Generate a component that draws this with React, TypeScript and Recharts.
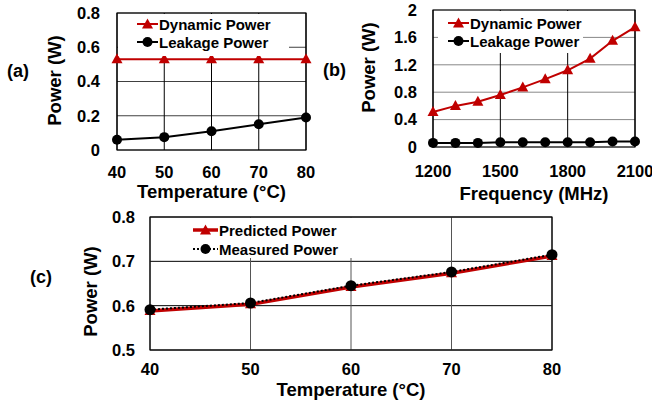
import {
  CartesianGrid,
  Legend,
  Line,
  LineChart,
  ReferenceArea,
  XAxis,
  YAxis,
} from "recharts";

// (a) power vs temperature
const tempC = [40, 50, 60, 70, 80];
const dynamicA = [0.53, 0.53, 0.53, 0.53, 0.53];
const leakageA = [0.06, 0.075, 0.11, 0.15, 0.19];

// (b) power vs frequency
const freqMHz = [1200, 1300, 1400, 1500, 1600, 1700, 1800, 1900, 2000, 2100];
const dynamicB = [0.51, 0.6, 0.66, 0.76, 0.87, 0.99, 1.12, 1.29, 1.55, 1.75];
const leakageB = [0.06, 0.06, 0.06, 0.07, 0.07, 0.07, 0.07, 0.07, 0.08, 0.08];

// (c) predicted vs measured
const predictedC = [0.588, 0.603, 0.642, 0.673, 0.712];
const measuredC = [0.591, 0.606, 0.645, 0.676, 0.715];

const tempTicks = [40, 50, 60, 70, 80];
const freqTicks = [1200, 1500, 1800, 2100];
const powerTicksA = [0, 0.2, 0.4, 0.6, 0.8];
const powerTicksB = [0, 0.4, 0.8, 1.2, 1.6, 2];
const powerTicksC = [0.5, 0.6, 0.7, 0.8];

const dataA = tempC.map((t, i) => ({ t, dynamic: dynamicA[i], leakage: leakageA[i] }));
const dataB = freqMHz.map((f, i) => ({ f, dynamic: dynamicB[i], leakage: leakageB[i] }));
const dataC = tempC.map((t, i) => ({ t, predicted: predictedC[i], measured: measuredC[i] }));

const FONT = '"Liberation Sans", Arial, sans-serif';
const RED = "#C00000";

const tickStyle = { fontFamily: FONT, fontWeight: "bold", fontSize: 16.5, fill: "#000" };
const titleStyle = { fontFamily: FONT, fontWeight: "bold", fontSize: 18.5, fill: "#000", textAnchor: "middle" as const };

function TriangleDot(props: any) {
  const { cx, cy, fill, index } = props;
  if (cx == null || cy == null) return <g key={index} />;
  return (
    <polygon
      key={index}
      points={`${cx},${cy - 6} ${cx - 5.5},${cy + 4} ${cx + 5.5},${cy + 4}`}
      fill={fill}
    />
  );
}

const triDot = (p: any) => <TriangleDot key={p.index} {...p} fill={RED} />;

// legend keeps the series order, not alphabetical
function makeLegend(iconW: number, rowH: number, order: string[]) {
  return function LegendBox({ payload }: any) {
    const items = [...(payload || [])].sort(
      (a: any, b: any) => order.indexOf(a.value) - order.indexOf(b.value)
    );
    return (
      <div style={{ fontFamily: FONT, fontWeight: "bold", fontSize: 15, color: "#000" }}>
        {items.map((entry: any) => (
          <div key={entry.value} style={{ display: "flex", alignItems: "center", height: rowH }}>
            <svg width={iconW} height={12} style={{ marginRight: 1 }}>
              <line
                x1={0}
                y1={6}
                x2={iconW}
                y2={6}
                stroke={entry.color}
                strokeWidth={entry.payload?.strokeWidth ?? 2}
                strokeDasharray={entry.payload?.strokeDasharray}
              />
              {entry.type === "triangle" ? (
                <polygon
                  points={`${iconW / 2},0.5 ${iconW / 2 - 5.5},10.5 ${iconW / 2 + 5.5},10.5`}
                  fill={entry.color}
                />
              ) : (
                <circle cx={iconW / 2} cy={6} r={5} fill={entry.color} />
              )}
            </svg>
            <span style={{ lineHeight: 1 }}>{entry.value}</span>
          </div>
        ))}
      </div>
    );
  };
}

const panelLabel = (text: string, left: number, top: number) => (
  <div
    style={{
      position: "absolute",
      left,
      top,
      fontFamily: FONT,
      fontWeight: "bold",
      fontSize: 18,
      lineHeight: "20px",
    }}
  >
    {text}
  </div>
);

function PanelA() {
  return (
    <LineChart width={330} height={205} data={dataA} margin={{ top: 13, right: 24, bottom: 0, left: 0 }}>
      <CartesianGrid vertical={false} stroke="#404040" />
      <CartesianGrid horizontal={false} stroke="#000" />
      <XAxis
        dataKey="t"
        type="number"
        domain={[40, 80]}
        ticks={tempTicks}
        interval={0}
        axisLine={false}
        tickLine={false}
        tickSize={0}
        tickMargin={16}
        height={55}
        tick={tickStyle}
        label={{ value: "Temperature (°C)", position: "insideBottom", offset: 7, style: titleStyle }}
      />
      <YAxis
        type="number"
        domain={[0, 0.8]}
        ticks={powerTicksA}
        interval={0}
        axisLine={false}
        tickLine={false}
        tickSize={0}
        tickMargin={17}
        width={117}
        tick={tickStyle}
        label={{ value: "Power (W)", angle: -90, position: "insideLeft", offset: 54, dy: -1, style: titleStyle }}
      />
      <ReferenceArea x1={40} x2={80} y1={0} y2={0.8} fill="none" stroke="#000" strokeWidth={1.2} />
      <Legend
        layout="vertical"
        align="center"
        verticalAlign="middle"
        content={makeLegend(21, 18.3, ["Dynamic Power", "Leakage Power"])}
        wrapperStyle={{ left: 118, top: 14, width: 171, height: 42, background: "#fff", paddingLeft: 19, paddingTop: 1, boxSizing: "border-box" }}
      />
      <Line
        dataKey="dynamic"
        name="Dynamic Power"
        stroke={RED}
        strokeWidth={2}
        legendType="triangle"
        dot={triDot}
        isAnimationActive={false}
      />
      <Line
        dataKey="leakage"
        name="Leakage Power"
        stroke="#000"
        strokeWidth={2}
        legendType="circle"
        dot={{ r: 5, fill: "#000", stroke: "#000", strokeWidth: 0 }}
        isAnimationActive={false}
      />
    </LineChart>
  );
}

function PanelB() {
  return (
    <LineChart width={322} height={205} data={dataB} margin={{ top: 10, right: 17, bottom: 0, left: 0 }}>
      <CartesianGrid vertical={false} stroke="#888" />
      <CartesianGrid horizontal={false} stroke="#000" />
      <XAxis
        dataKey="f"
        type="number"
        domain={[1200, 2100]}
        ticks={freqTicks}
        interval={0}
        axisLine={false}
        tickLine={false}
        tickSize={0}
        tickMargin={18}
        height={58}
        tick={tickStyle}
        label={{ value: "Frequency (MHz)", position: "insideBottom", offset: 5, style: titleStyle }}
      />
      <YAxis
        type="number"
        domain={[0, 2]}
        ticks={powerTicksB}
        interval={0}
        axisLine={false}
        tickLine={false}
        tickSize={0}
        tickMargin={16}
        width={103}
        tick={tickStyle}
        label={{ value: "Power (W)", angle: -90, position: "insideLeft", offset: 38, dy: -11, style: titleStyle }}
      />
      <ReferenceArea x1={1200} x2={2100} y1={0} y2={2} fill="none" stroke="#000" strokeWidth={1.2} />
      <Legend
        layout="vertical"
        align="center"
        verticalAlign="middle"
        content={makeLegend(21, 18.3, ["Dynamic Power", "Leakage Power"])}
        wrapperStyle={{ left: 108, top: 11, width: 145, height: 42, background: "#fff", paddingLeft: 10, paddingTop: 3, boxSizing: "border-box" }}
      />
      <Line
        dataKey="dynamic"
        name="Dynamic Power"
        stroke={RED}
        strokeWidth={2}
        legendType="triangle"
        dot={triDot}
        isAnimationActive={false}
      />
      <Line
        dataKey="leakage"
        name="Leakage Power"
        stroke="#000"
        strokeWidth={2}
        legendType="circle"
        dot={{ r: 5, fill: "#000", stroke: "#000", strokeWidth: 0 }}
        isAnimationActive={false}
      />
    </LineChart>
  );
}

function PanelC() {
  return (
    <LineChart width={652} height={202} data={dataC} margin={{ top: 17, right: 100, bottom: 0, left: 0 }}>
      <CartesianGrid vertical={false} stroke="#000" />
      <CartesianGrid horizontal={false} stroke="#555" />
      <XAxis
        dataKey="t"
        type="number"
        domain={[40, 80]}
        ticks={tempTicks}
        interval={0}
        axisLine={false}
        tickLine={false}
        tickSize={0}
        tickMargin={13}
        height={52}
        tick={tickStyle}
        label={{ value: "Temperature (°C)", position: "insideBottom", offset: 6, style: titleStyle }}
      />
      <YAxis
        type="number"
        domain={[0.5, 0.8]}
        ticks={powerTicksC}
        interval={0}
        axisLine={false}
        tickLine={false}
        tickSize={0}
        tickMargin={15}
        width={150}
        tick={tickStyle}
        label={{ value: "Power (W)", angle: -90, position: "insideLeft", offset: 90, dy: 8, style: titleStyle }}
      />
      <ReferenceArea x1={40} x2={80} y1={0.5} y2={0.8} fill="none" stroke="#000" strokeWidth={1.2} />
      <Legend
        layout="vertical"
        align="center"
        verticalAlign="middle"
        content={makeLegend(25, 19.3, ["Predicted Power", "Measured Power"])}
        wrapperStyle={{ left: 151, top: 18, width: 209, height: 40, background: "#fff", paddingLeft: 42, paddingTop: 2.5, boxSizing: "border-box" }}
      />
      <Line
        dataKey="predicted"
        name="Predicted Power"
        stroke={RED}
        strokeWidth={3.5}
        legendType="triangle"
        dot={triDot}
        isAnimationActive={false}
      />
      <Line
        dataKey="measured"
        name="Measured Power"
        stroke="#000"
        strokeWidth={2}
        strokeDasharray="2 2"
        legendType="circle"
        dot={{ r: 5.5, fill: "#000", stroke: "#000", strokeWidth: 0, strokeDasharray: "" }}
        isAnimationActive={false}
      />
    </LineChart>
  );
}

export default function App() {
  return (
    <div style={{ position: "absolute", left: 0, top: 0, width: 652, height: 402, background: "#fff", overflow: "hidden" }}>
      <div style={{ position: "absolute", left: 0, top: 200 }}>
        <PanelC />
      </div>
      <div style={{ position: "absolute", left: 0, top: 0 }}>
        <PanelA />
      </div>
      <div style={{ position: "absolute", left: 330, top: 0 }}>
        <PanelB />
      </div>
      {panelLabel("(a)", 7, 61)}
      {panelLabel("(b)", 323, 59.5)}
      {panelLabel("(c)", 30, 266.5)}
    </div>
  );
}
